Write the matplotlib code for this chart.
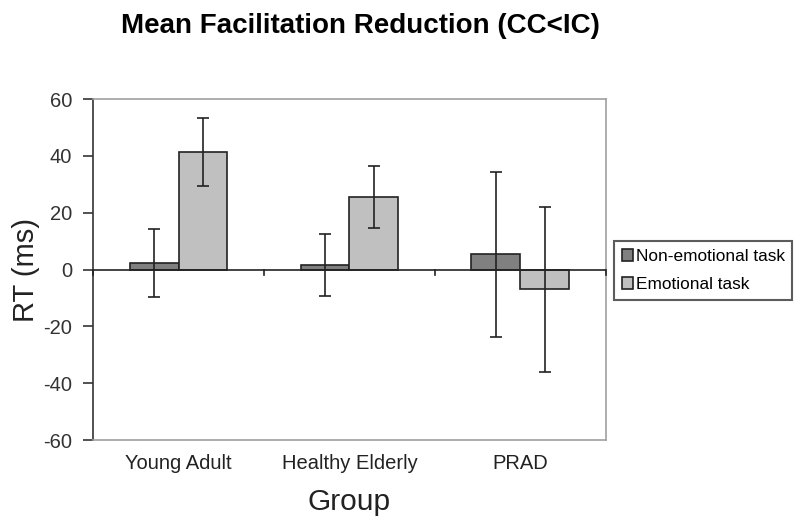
import matplotlib.pyplot as plt
import numpy as np

plt.rcParams['axes.unicode_minus'] = False

# values
groups = ['Young Adult', 'Healthy Elderly', 'PRAD']
series = ['Non-emotional task', 'Emotional task']
non_emotional = [2.2, 1.6, 5.4]
non_emotional_err = [12, 11, 29]
emotional = [41.3, 25.6, -6.9]
emotional_err = [12, 11, 29]

colors = ['#808080', '#c0c0c0']
font = 'Liberation Sans'

fig = plt.figure(figsize=(8, 5.27), dpi=100)
ax = fig.add_axes([0.1163, 0.165, 0.641, 0.647])

x = np.arange(len(groups))
w = 0.286
ax.bar(x - w / 2, non_emotional, w, color=colors[0], edgecolor='#222222',
       linewidth=1.2, label=series[0], zorder=2)
ax.bar(x + w / 2, emotional, w, color=colors[1], edgecolor='#222222',
       linewidth=1.2, label=series[1], zorder=2)
ax.errorbar(x - w / 2, non_emotional, yerr=non_emotional_err, fmt='none',
            ecolor='#222222', elinewidth=1.2, capsize=4, capthick=1.2, zorder=3)
ax.errorbar(x + w / 2, emotional, yerr=emotional_err, fmt='none',
            ecolor='#222222', elinewidth=1.2, capsize=4, capthick=1.2, zorder=3)

# zero line with category-boundary ticks
ax.axhline(0, color='#222222', linewidth=1.2, zorder=4)
for b in np.arange(len(groups) + 1) - 0.5:
    ax.plot([b, b], [0, -2], color='#222222', linewidth=1.2, zorder=4,
            clip_on=False)

ax.set_xlim(-0.5, len(groups) - 0.5)
ax.set_ylim(-60, 60)
ax.set_yticks(np.arange(-60, 61, 20))
ax.set_xticks(x)
ax.set_xticklabels(groups, fontsize=14.5, family=font, color='#222222')
ax.tick_params(axis='x', length=0, pad=10)
ax.tick_params(axis='y', direction='out', length=7, width=1.2, pad=8,
               labelsize=14.5, colors='#333333')
for lab in ax.get_yticklabels():
    lab.set_family(font)

for side in ['top', 'right', 'bottom']:
    ax.spines[side].set_color('#a0a0a0')
    ax.spines[side].set_linewidth(1.2)
ax.spines['left'].set_color('#333333')
ax.spines['left'].set_linewidth(1.2)

ax.set_xlabel('Group', fontsize=21.5, family=font, labelpad=11,
              color='#222222')
ax.set_ylabel('RT (ms)', fontsize=21, family=font, labelpad=2,
              color='#222222')

fig.text(0.45, 0.95, 'Mean Facilitation Reduction (CC<IC)', ha='center',
         va='center', fontsize=20, fontweight='bold', family=font)

leg = fig.legend(loc='center left', bbox_to_anchor=(0.7675, 0.4867),
                 prop={'family': font, 'size': 12.4},
                 frameon=True, fancybox=False, edgecolor='#333333',
                 handlelength=0.65, handleheight=0.65, handletextpad=0.15,
                 borderpad=0.45, labelspacing=0.75, borderaxespad=0)
leg.get_frame().set_linewidth(1.5)

fig.savefig('out.png', dpi=100)
